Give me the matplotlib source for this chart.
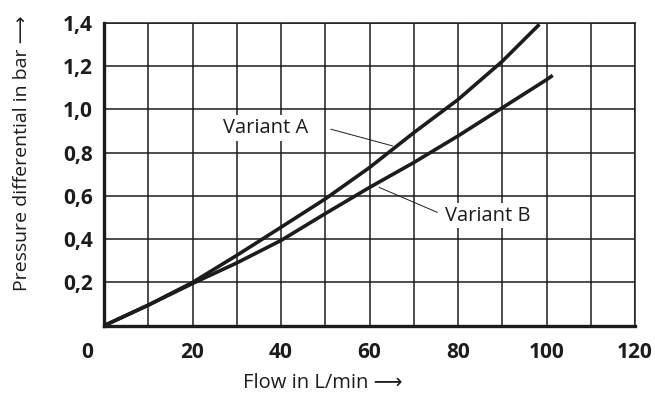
import matplotlib.pyplot as plt
from matplotlib.ticker import MultipleLocator

# values
flow_a = [0, 10, 20, 30, 40, 50, 60, 70, 80, 90, 98.4]
dp_a = [0, 0.095, 0.20, 0.325, 0.455, 0.586, 0.731, 0.892, 1.045, 1.222, 1.393]

flow_b = [0, 10, 20, 30, 40, 50, 60, 70, 80, 90, 100, 101.4]
dp_b = [0, 0.095, 0.195, 0.29, 0.394, 0.518, 0.639, 0.754, 0.877, 1.007, 1.137, 1.157]

x_ticks = [20, 40, 60, 80, 100, 120]
y_ticks = [0.2, 0.4, 0.6, 0.8, 1.0, 1.2, 1.4]
y_labels = ['0,2', '0,4', '0,6', '0,8', '1,0', '1,2', '1,4']

plt.rcParams['font.family'] = ['Open Sans', 'DejaVu Sans']
ink = '#1c1c1c'

fig = plt.figure(figsize=(6.55, 4.0), dpi=100)
ax = fig.add_axes([0.1588, 0.1858, 0.9695 - 0.1588, 0.943 - 0.1858])

ax.set_xlim(0, 120)
ax.set_ylim(0, 1.4)

# grid
ax.xaxis.set_minor_locator(MultipleLocator(10))
ax.set_xticks(x_ticks)
ax.set_xticklabels([str(v) for v in x_ticks], fontsize=15, fontweight='bold', color=ink)
ax.set_yticks(y_ticks)
ax.set_yticklabels(y_labels, fontsize=15, fontweight='bold', color=ink)
ax.grid(True, which='both', color=ink, linewidth=1.1, zorder=0)
ax.tick_params(which='both', length=0)
ax.tick_params(axis='x', pad=12)
ax.tick_params(axis='y', pad=8)

ax.text(-3.8, -0.125, '0', fontsize=15, fontweight='bold', color=ink,
        ha='center', va='center')

for side in ['top', 'right']:
    ax.spines[side].set_linewidth(1.1)
    ax.spines[side].set_color(ink)
for side in ['left', 'bottom']:
    ax.spines[side].set_linewidth(2.4)
    ax.spines[side].set_color(ink)
    ax.spines[side].set_zorder(5)

ax.plot(flow_a, dp_a, color=ink, linewidth=2.6, solid_capstyle='butt', zorder=4, clip_on=False)
ax.plot(flow_b, dp_b, color=ink, linewidth=2.6, solid_capstyle='butt', zorder=4, clip_on=False)

# labels with leader lines
ax.plot([51.3, 65.2], [0.908, 0.831], color=ink, linewidth=0.7, zorder=3)
ax.plot([62.2, 75.3], [0.639, 0.524], color=ink, linewidth=0.7, zorder=3)
ax.text(36.6, 0.914, 'Variant A', fontsize=14.5, color=ink, ha='center', va='center',
        zorder=3, bbox=dict(facecolor='white', edgecolor='none', pad=2))
ax.text(86.7, 0.509, 'Variant B', fontsize=14.5, color=ink, ha='center', va='center',
        zorder=3, bbox=dict(facecolor='white', edgecolor='none', pad=2))

fig.text(0.493, 0.0425, 'Flow in L/min \u27f6', fontsize=14.5, color=ink,
         ha='center', va='center')
fig.text(0.034, 0.6175, 'Pressure differential in bar \u27f6', fontsize=14, color=ink,
         ha='center', va='center', rotation=90)

fig.savefig('out.png', dpi=100)
